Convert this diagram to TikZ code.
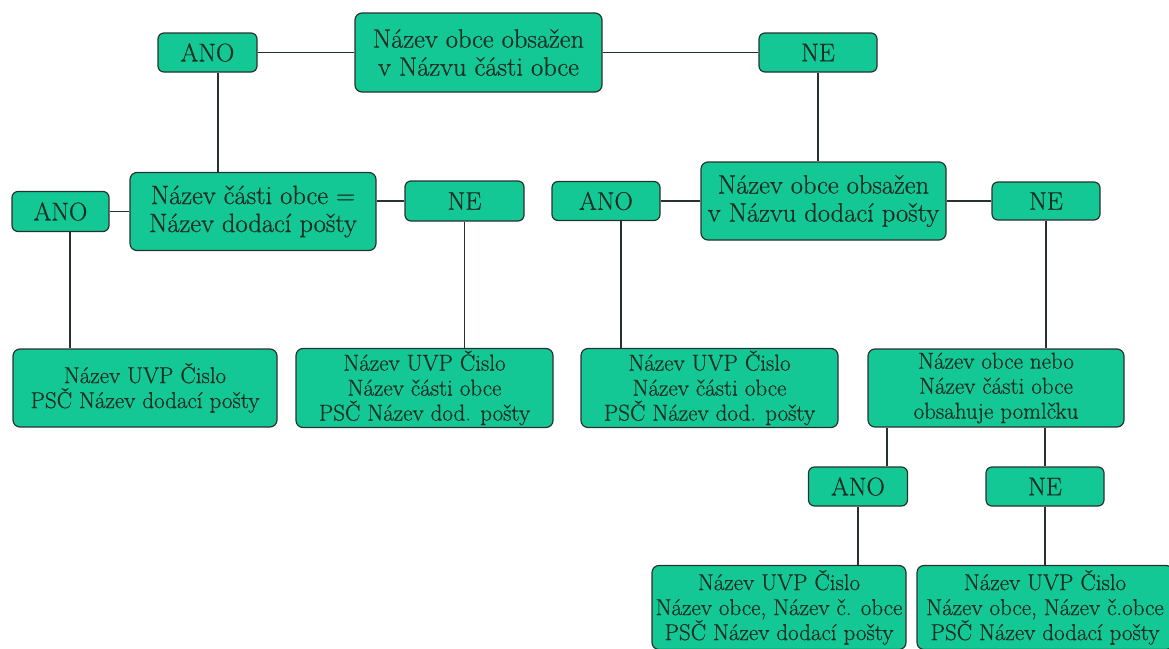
\documentclass[tikz,border=0pt]{standalone}
\usepackage{fontspec}
\setmainfont{Latin Modern Roman}[FakeBold=0.6]
\usetikzlibrary{positioning}
\definecolor{zelena}{RGB}{20,200,150}
\definecolor{okraj}{RGB}{40,50,45}
\definecolor{pismo}{RGB}{25,45,35}
\tikzstyle{spoj} = [line width=1.3pt, draw=okraj]
\tikzstyle{otazka} = [
    rectangle, rounded corners=7pt, minimum width=246pt, minimum height=78pt,
    inner sep=0pt, align=center, draw=okraj, line width=1.2pt, fill=zelena,
    text=pismo, font=\fontsize{26.5pt}{28pt}\selectfont
]
\tikzstyle{odpoved} = [
    rectangle, rounded corners=6pt, minimum width=99pt, minimum height=39pt,
    inner sep=0pt, align=center, draw=okraj, line width=1.2pt, fill=zelena,
    text=pismo, font=\fontsize{25.5pt}{28pt}\selectfont
]
\tikzstyle{vysledek} = [
    rectangle, rounded corners=7pt, minimum width=257pt, minimum height=79pt,
    inner sep=0pt, align=center, draw=okraj, line width=1.2pt, fill=zelena,
    text=pismo, font=\fontsize{23pt}{25pt}\selectfont
]

\begin{document}
\begin{tikzpicture}[x=1pt, y=-1pt, node distance=159pt]
\useasboundingbox (0,0) rectangle (1169,648);
% Otazky
\node (Q_1) [otazka, minimum width=247pt, minimum height=79pt] at (478.5,52.5) {Název obce obsažen\\v Názvu části obce};
\node (Ano_1) [odpoved, left of=Q_1, xshift=-112pt] {ANO};
\node (Ne_1) [odpoved, right of=Q_1, xshift=180.5pt, minimum width=118pt] {NE};
\node (Q_2) [otazka, below of=Ano_1, xshift=45.5pt] {Název části obce =\\Název dodací pošty};
\node (Ano_2) [odpoved, left of=Q_2, xshift=-33.5pt, minimum width=97pt, minimum height=40pt] {ANO};
\node (Ne_2) [odpoved, right of=Q_2, xshift=52.5pt, yshift=10.5pt, minimum width=119pt, minimum height=40pt] {NE};
\node (Q_3) [otazka, below of=Ne_1, xshift=5.5pt, yshift=10.5pt, minimum width=245pt] {Název obce obsažen\\v Názvu dodací pošty};
\node (Ano_3) [odpoved, left of=Q_3, xshift=-58.5pt, minimum width=108pt] {ANO};
\node (Ne_3) [odpoved, right of=Q_3, xshift=63.5pt, minimum width=108pt, minimum height=38pt] {NE};
\node (Q_4) [vysledek, below of=Ne_3, xshift=-50pt, yshift=-28pt, minimum width=256pt, minimum height=78pt] {Název obce nebo\\Název části obce\\obsahuje pomlčku};
\node (Ano_4) [odpoved, below of=Q_4, xshift=-138pt, yshift=60.5pt] {ANO};
\node (Ne_4) [odpoved, below of=Q_4, xshift=49pt, yshift=60.5pt, minimum width=118pt] {NE};

% Vysledky
\node (V_1) [vysledek, below of=Ano_2, xshift=84.5pt, yshift=-17.5pt, minimum width=264pt, minimum height=78pt] {Název UVP Čislo\\PSČ Název dodací pošty};
\node (V_2) [vysledek, below of=Ne_2, xshift=-40pt, yshift=-28pt] {Název UVP Čislo\\Název části obce\\PSČ Název dod. pošty};
\node (V_3) [vysledek, below of=Ano_3, xshift=103.5pt, yshift=-28pt] {Název UVP Čislo\\Název části obce\\PSČ Název dod. pošty};
\node (V_4) [vysledek, below of=Ano_4, xshift=-79pt, yshift=38pt, minimum width=254pt, minimum height=84pt] {Název UVP Čislo\\Název obce, Název č. obce\\PSČ Název dodací pošty};
\node (V_5) [vysledek, below of=Ne_4, yshift=38pt, minimum width=256pt, minimum height=84pt] {Název UVP Čislo\\Název obce, Název č.obce\\PSČ Název dodací pošty};

% Spoje
\draw [spoj] (Ano_1) -- (Q_1);
\draw [spoj] (Q_1) -- (Ne_1);
\draw [spoj] ([xshift=10.5pt]Ano_1.south) -- ([xshift=10.5pt]Ano_1.south |- Q_2.north);
\draw [spoj] (Ne_1.south) -- (Ne_1.south |- Q_3.north);
\draw [spoj] (Ano_2) -- (Q_2);
\draw [spoj] (Ne_2.west -| Q_2.east) -- (Ne_2.west);
\draw [spoj] (Ano_3) -- (Q_3);
\draw [spoj] (Q_3) -- (Ne_3);
\draw [spoj] ([xshift=9.5pt]Ano_2.south) -- ([xshift=9.5pt]Ano_2.south |- V_1.north);
\draw [spoj] (Ne_2.south) -- (Ne_2.south |- V_2.north);
\draw [spoj] ([xshift=15pt]Ano_3.south) -- ([xshift=15pt]Ano_3.south |- V_3.north);
\draw [spoj] (Ne_3.south) -- (Ne_3.south |- Q_4.north);
\draw [spoj] ([xshift=29pt]Ano_4.north) -- ([xshift=29pt]Ano_4.north |- Q_4.south);
\draw [spoj] (Ne_4.north) -- (Ne_4.north |- Q_4.south);
\draw [spoj] (Ano_4.south) -- (Ano_4.south |- V_4.north);
\draw [spoj] (Ne_4.south) -- (V_5.north);

\end{tikzpicture}
\end{document}
